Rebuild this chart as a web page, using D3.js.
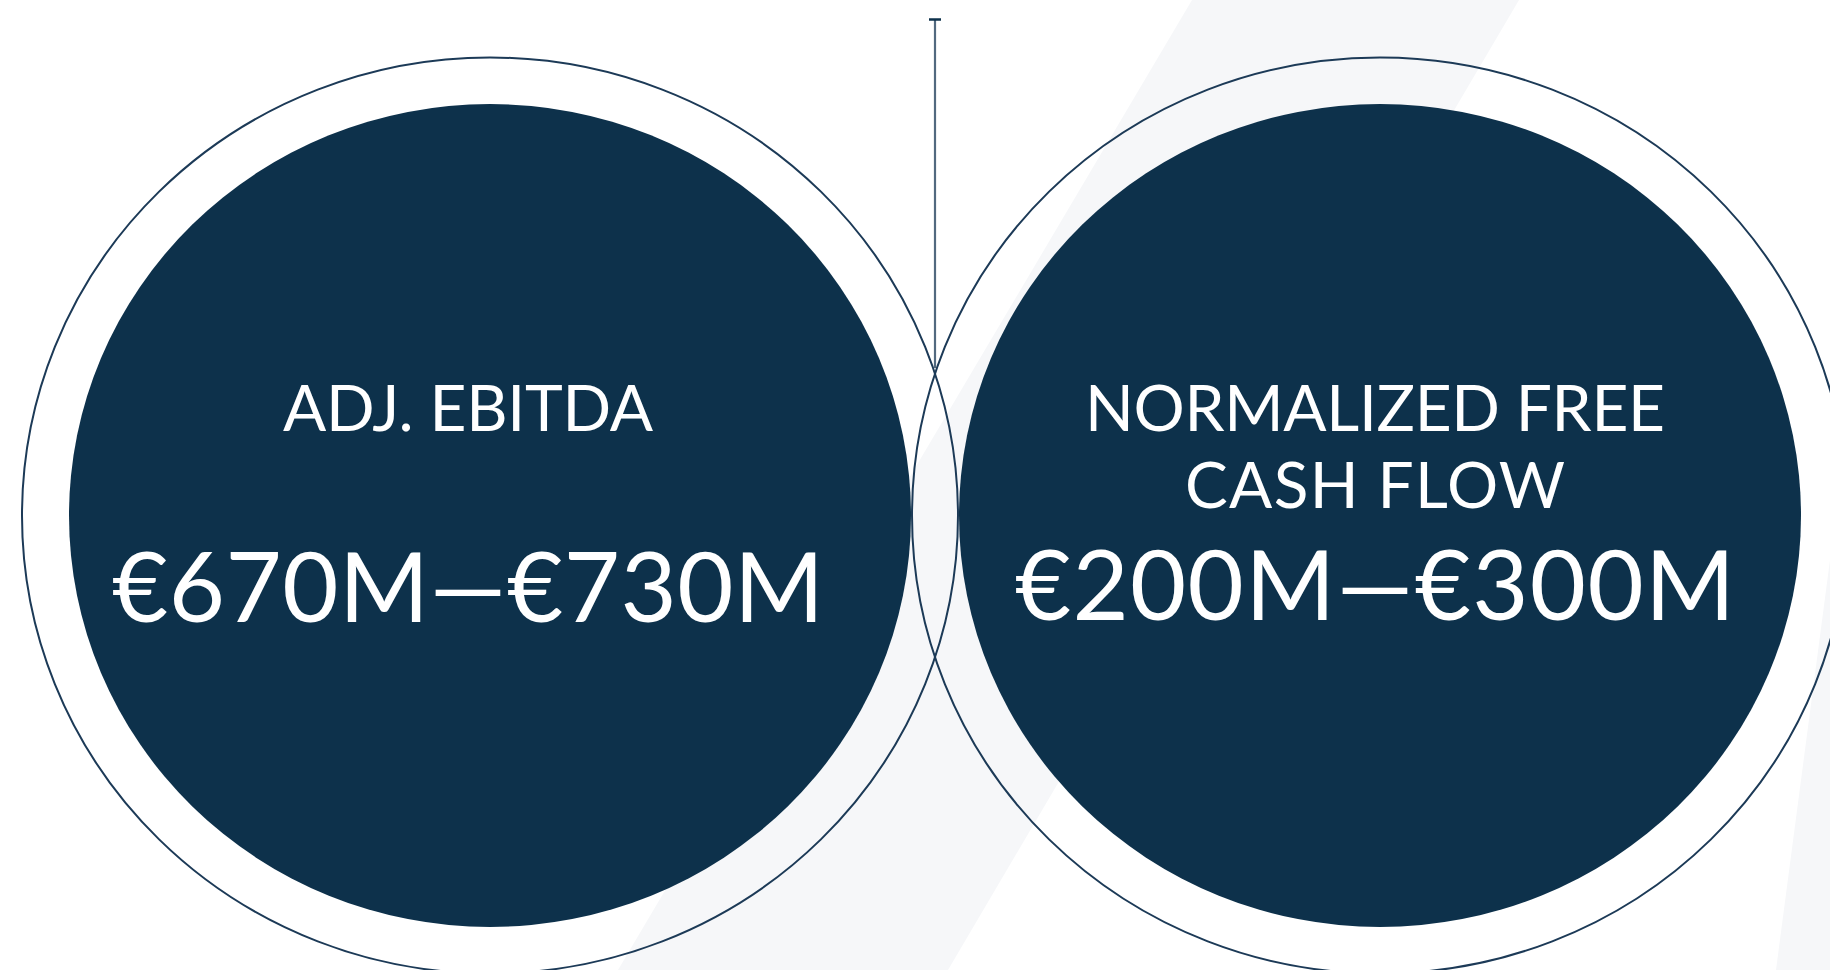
<!DOCTYPE html>
<html>
<head>
<meta charset="utf-8">
<script src="https://cdn.jsdelivr.net/npm/d3@7"></script>
<style>
  html, body { margin: 0; padding: 0; background: #fff; overflow: hidden; }
  svg { display: block; }
  text { font-family: Lato, "Open Sans", sans-serif; fill: #fff; }
</style>
</head>
<body>
<div id="chart"></div>
<script>
// KPI guidance
const metrics = ["ebitda", "fcf"];
const titleLines = [["ADJ. EBITDA"], ["NORMALIZED FREE", "CASH FLOW"]];
const lowValues = [670, 200];
const highValues = [730, 300];
const currency = "€";
const unit = "M";

const width = 1830, height = 970;
const navy = "#0d314b";

const svg = d3.select("#chart").append("svg")
    .attr("width", width)
    .attr("height", height);

// faint background bands
const bands = [
    [[1192, 0], [1519, 0], [948, height], [618, height]],
    [[width, 560], [width, height], [1776, height]]
];
svg.selectAll("polygon.band")
    .data(bands)
    .join("polygon")
    .attr("class", "band")
    .attr("points", d => d.map(p => p.join(",")).join(" "))
    .attr("fill", "#f6f7f9");

// circle positions
const x = d3.scalePoint().domain(metrics).range([490, 1380]);
const textX = d3.scalePoint().domain(metrics).range([468, 1375]);
const cy = 515.5;

const g = svg.selectAll("g.kpi")
    .data(metrics)
    .join("g")
    .attr("class", "kpi");

g.append("ellipse")
    .attr("cx", d => x(d))
    .attr("cy", cy)
    .attr("rx", 468)
    .attr("ry", 458)
    .attr("fill", "none")
    .attr("stroke", "#1c3a57")
    .attr("stroke-width", 2);

g.append("ellipse")
    .attr("cx", d => x(d))
    .attr("cy", cy)
    .attr("rx", 421)
    .attr("ry", 411.5)
    .attr("fill", navy);

// connector line at top
const midX = (x(metrics[0]) + x(metrics[1])) / 2;
svg.append("line")
    .attr("x1", midX).attr("x2", midX)
    .attr("y1", 20).attr("y2", 368)
    .attr("stroke", "#52697f")
    .attr("stroke-width", 2.2);
svg.append("line")
    .attr("x1", midX - 6).attr("x2", midX + 6)
    .attr("y1", 19.5).attr("y2", 19.5)
    .attr("stroke", navy)
    .attr("stroke-width", 2.5);

// titles
const titleWidths = [[370], [580, 380]];
g.each(function(d, i) {
    const sel = d3.select(this);
    titleLines[i].forEach((line, j) => {
        sel.append("text")
            .attr("x", textX(d))
            .attr("y", 431 + j * 77)
            .attr("text-anchor", "middle")
            .attr("font-size", 64)
            .attr("textLength", titleWidths[i][j])
            .attr("lengthAdjust", "spacing")
            .text(line);
    });
});

// values
const valueWidths = [712, 720];
g.append("text")
    .attr("x", d => textX(d))
    .attr("y", (d, i) => i === 0 ? 622 : 619.5)
    .attr("text-anchor", "middle")
    .attr("font-size", 97)
    .attr("textLength", (d, i) => valueWidths[i])
    .attr("lengthAdjust", "spacing")
    .text((d, i) => `${currency}${lowValues[i]}${unit}—${currency}${highValues[i]}${unit}`);
</script>
</body>
</html>
